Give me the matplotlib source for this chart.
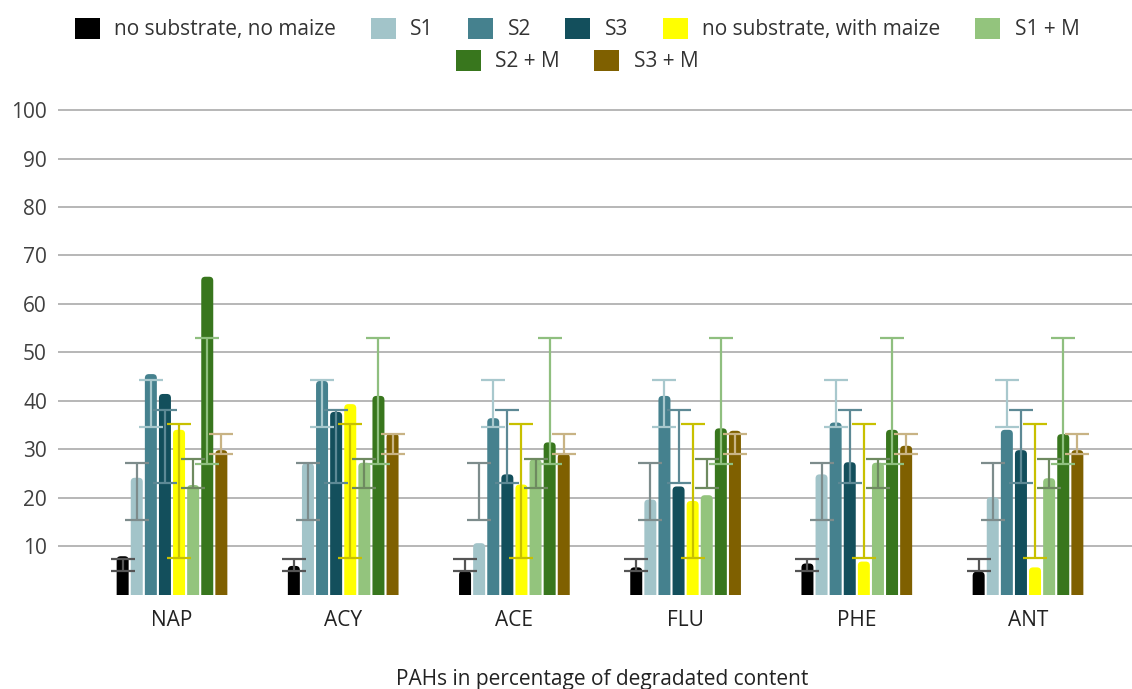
import numpy as np
import matplotlib
matplotlib.use("Agg")
import matplotlib.pyplot as plt
from matplotlib.patches import FancyBboxPatch, Patch

plt.rcParams['font.family'] = ['Open Sans', 'DejaVu Sans']

compounds = ['NAP', 'ACY', 'ACE', 'FLU', 'PHE', 'ANT']
series = ['no substrate, no maize', 'S1', 'S2', 'S3',
          'no substrate, with maize', 'S1 + M', 'S2 + M', 'S3 + M']

# degradation (%) per series, one value per compound
no_sub_no_maize = [7.9, 5.9, 4.9, 5.6, 6.4, 4.7]
s1 = [24.1, 27.1, 10.6, 19.6, 24.8, 20.1]
s2 = [45.5, 44.1, 36.4, 41.0, 35.5, 34.0]
s3 = [41.4, 37.7, 24.8, 22.3, 27.3, 29.8]
no_sub_maize = [34.0, 39.3, 22.7, 19.3, 6.8, 5.6]
s1_m = [22.6, 27.2, 27.9, 20.5, 27.2, 24.0]
s2_m = [65.6, 41.0, 31.4, 34.3, 34.0, 33.1]
s3_m = [29.8, 33.3, 29.1, 33.8, 30.7, 29.8]
values = [no_sub_no_maize, s1, s2, s3, no_sub_maize, s1_m, s2_m, s3_m]

# error range (low, high) per series, same for every compound
err_low = [4.9, 15.3, 34.6, 23.0, 7.5, 21.9, 26.9, 29.1]
err_high = [7.3, 27.2, 44.3, 38.1, 35.1, 28.0, 52.9, 33.2]

bar_colors = ['#000000', '#a2c4c9', '#45818e', '#134f5c',
              '#ffff00', '#93c47d', '#38761d', '#7f6000']
err_colors = ['#555555', '#7d8c8c', '#a8c8cd', '#5d8995',
              '#c8c000', '#6e8a60', '#8fbf7f', '#c8b384']

FS = 15
W, H = 1132, 689
fig = plt.figure(figsize=(W / 100, H / 100), dpi=100)

# plot area in pixels
left_px, right_px = 58, 1132
zero_px, px_per_unit = 594.5, 4.844
ymax = 102.0
px_per_cat = 171.2
first_center_px = 172

ax = fig.add_axes([left_px / W, (H - zero_px) / H,
                   (right_px - left_px) / W, ymax * px_per_unit / H])
ax.set_ylim(0, ymax)
ax.set_xlim((left_px - first_center_px) / px_per_cat,
            (right_px - first_center_px) / px_per_cat)

for s in ax.spines.values():
    s.set_visible(False)
ax.set_yticks(np.arange(10, 101, 10))
ax.yaxis.grid(True, color='#b7b7b7', linewidth=1.4)
ax.set_axisbelow(True)
ax.tick_params(axis='y', length=0, pad=8, labelsize=FS, labelcolor='#404040')
ax.tick_params(axis='x', length=0, pad=11, labelsize=FS, labelcolor='#222222')
ax.set_xticks(np.arange(len(compounds)))
ax.set_xticklabels(compounds)

step = 14.1 / px_per_cat
bar_w = 12.0 / px_per_cat
radius = 4.0 / px_per_cat
aspect = px_per_cat / px_per_unit
x = np.arange(len(compounds))

for k, (vals, col) in enumerate(zip(values, bar_colors)):
    offs = (k - 3.5) * step
    for xi, v in zip(x, vals):
        # rounded-top bar; the part below zero is clipped by the axes
        p = FancyBboxPatch((xi + offs - bar_w / 2, -5), bar_w, v + 5,
                           boxstyle=f"round,pad=0,rounding_size={radius}",
                           mutation_aspect=aspect, facecolor=col,
                           edgecolor='none', zorder=2)
        ax.add_patch(p)

for k, col in enumerate(err_colors):
    offs = (k - 3.5) * step
    mid = (err_low[k] + err_high[k]) / 2
    half = (err_high[k] - err_low[k]) / 2
    ax.errorbar(x + offs, [mid] * len(x), yerr=half, fmt='none',
                ecolor=col, elinewidth=1.6, capsize=8.6, capthick=1.6,
                zorder=3)

# legend split over two centred rows
handles = [Patch(facecolor=c, edgecolor='none') for c in bar_colors]
leg_kw = dict(frameon=False, fontsize=FS, handlelength=1.2,
              handleheight=1.2, handletextpad=0.7, columnspacing=1.65,
              loc='center', labelcolor='#333333')
fig.legend(handles[:6], series[:6], ncol=6,
           bbox_to_anchor=(577 / W, 1 - 29 / H), **leg_kw)
fig.legend(handles[6:], series[6:], ncol=2,
           bbox_to_anchor=(577 / W, 1 - 61 / H), **leg_kw)

fig.text(602 / W, 1 - 680 / H, 'PAHs in percentage of degradated content',
         ha='center', va='center', fontsize=FS, color='#222222')

fig.savefig('out.png', dpi=100)
